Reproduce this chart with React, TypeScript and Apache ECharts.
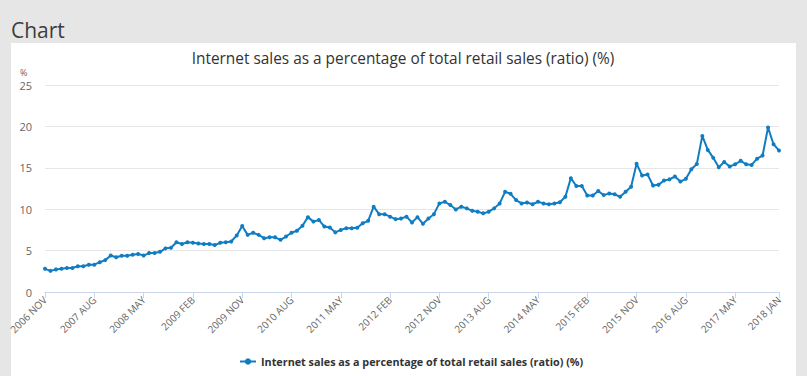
import React, { useEffect, useRef } from "react";
import * as echarts from "echarts";

const startYear = 2006;
const startMonthIndex = 10; // NOV
const monthNames = ["JAN", "FEB", "MAR", "APR", "MAY", "JUN", "JUL", "AUG", "SEP", "OCT", "NOV", "DEC"];

const values: number[] = [
  2.8, 2.55, 2.73, 2.8, 2.9, 2.9, 3.1, 3.1, 3.3, 3.3,
  3.6, 3.85, 4.4, 4.2, 4.38, 4.38, 4.5, 4.6, 4.4, 4.7,
  4.7, 4.85, 5.27, 5.35, 6.0, 5.8, 6.0, 5.95, 5.87, 5.8,
  5.8, 5.67, 5.95, 6.0, 6.1, 6.83, 7.96, 6.9, 7.15, 6.9,
  6.5, 6.6, 6.6, 6.3, 6.7, 7.15, 7.4, 8.0, 9.04, 8.5,
  8.7, 7.9, 7.8, 7.2, 7.5, 7.7, 7.7, 7.75, 8.3, 8.6,
  10.3, 9.4, 9.4, 9.1, 8.8, 8.88, 9.1, 8.4, 9.04, 8.24,
  8.88, 9.4, 10.7, 10.9, 10.5, 9.97, 10.3, 10.1, 9.8, 9.7,
  9.5, 9.7, 10.1, 10.7, 12.1, 11.86, 11.1, 10.7, 10.8, 10.6,
  10.9, 10.7, 10.6, 10.7, 10.85, 11.5, 13.75, 12.8, 12.8, 11.66,
  11.66, 12.2, 11.7, 11.9, 11.8, 11.5, 12.1, 12.7, 15.5, 14.07,
  14.2, 12.86, 12.94, 13.46, 13.6, 13.95, 13.34, 13.67, 14.83, 15.47,
  18.85, 17.16, 16.2, 15.07, 15.7, 15.15, 15.43, 15.84, 15.43, 15.35,
  16.1, 16.48, 19.86, 17.85, 17.08,
];

const categories: string[] = values.map((_, i) => {
  const m = startMonthIndex + i;
  return `${startYear + Math.floor(m / 12)} ${monthNames[m % 12]}`;
});

const yTicks = [0, 5, 10, 15, 20, 25];
const seriesName = "Internet sales as a percentage of total retail sales (ratio) (%)";
const chartTitle = "Internet sales as a percentage of total retail sales (ratio) (%)";

const FONT = "'Open Sans', 'Noto Sans', sans-serif";
const LINE_COLOR = "#107dc3";

export default function App() {
  const ref = useRef<HTMLDivElement>(null);
  useEffect(() => {
    document.body.style.margin = "0";
    if (!ref.current) return;
    const chart = echarts.init(ref.current, undefined, { renderer: "svg" });
    const last = categories.length - 1;
    const showIdx = (i: number) => i % 9 === 0 || i === last;
    chart.setOption({
      animation: false,
      backgroundColor: "#e6e6e6",
      textStyle: { fontFamily: FONT },
      graphic: [
        { type: "rect", shape: { x: 11, y: 43, width: 785, height: 340 }, style: { fill: "#ffffff" }, z: -10 },
        { type: "text", x: 11, y: 30, style: { text: "Chart", font: `21px ${FONT}`, fill: "#3d3d3d", textVerticalAlign: "middle" } },
        { type: "text", x: 403, y: 58, style: { text: chartTitle, font: `15.4px ${FONT}`, fill: "#333333", textAlign: "center", textVerticalAlign: "middle" } },
        { type: "text", x: 20, y: 72, style: { text: "%", font: `9px ${FONT}`, fill: "#666666", textVerticalAlign: "middle" } },
      ],
      legend: {
        bottom: 4,
        left: 234,
        itemWidth: 16,
        itemHeight: 8,
        itemGap: 4,
        textStyle: { fontFamily: FONT, fontSize: 10.8, fontWeight: "bold", color: "#333333" },
        data: [seriesName],
      },
      grid: { left: 45, right: 28, top: 85, bottom: 84, containLabel: false },
      xAxis: {
        type: "category",
        data: categories,
        boundaryGap: false,
        axisLine: { lineStyle: { color: "#ccd6eb" } },
        axisTick: { show: true, interval: (i: number) => showIdx(i), length: 6, lineStyle: { color: "#ccd6eb" } },
        axisLabel: {
          interval: (i: number) => showIdx(i),
          rotate: 45,
          fontSize: 10,
          color: "#666666",
          fontFamily: FONT,
          margin: 6,
        },
        splitLine: { show: false },
      },
      yAxis: {
        type: "value",
        min: 0,
        max: 25,
        interval: 5,
        axisLine: { show: false },
        axisTick: { show: false },
        axisLabel: {
          fontSize: 11,
          color: "#666666",
          fontFamily: FONT,
          margin: 13,
          formatter: (v: number) => (yTicks.includes(v) ? String(v) : ""),
        },
        splitLine: { lineStyle: { color: "#e6e6e6" } },
      },
      series: [
        {
          name: seriesName,
          type: "line",
          data: values,
          color: LINE_COLOR,
          symbol: "circle",
          symbolSize: 4,
          showSymbol: true,
          showAllSymbol: true,
          lineStyle: { width: 2, color: LINE_COLOR },
          itemStyle: { color: LINE_COLOR },
        },
      ],
    });
    return () => chart.dispose();
  }, []);
  return <div ref={ref} style={{ position: "absolute", left: 0, top: 0, width: 807, height: 376 }} />;
}
